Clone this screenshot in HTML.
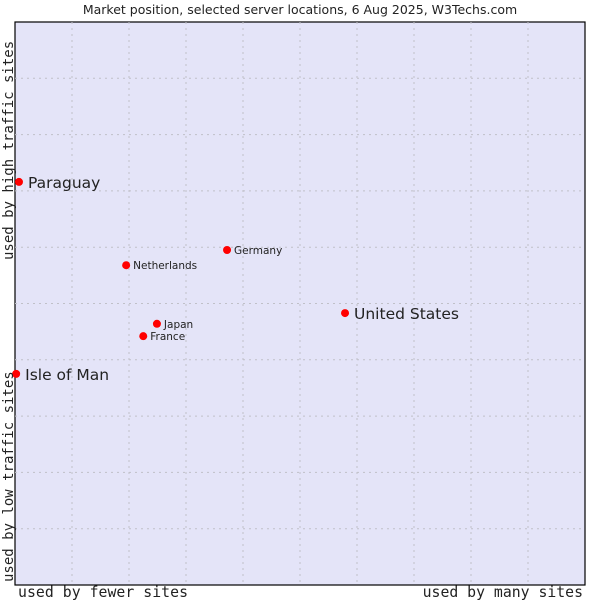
<!DOCTYPE html>
<html><head><meta charset="utf-8"><style>
body{margin:0;background:#fff;width:600px;height:600px;overflow:hidden}
svg text{fill:#222}
</style></head><body>
<svg id="chart" width="600" height="600">
<text x="300" y="14" text-anchor="middle" font-family="DejaVu Sans, sans-serif" font-size="12.5">Market position, selected server locations, 6 Aug 2025, W3Techs.com</text>
<rect x="15" y="22" width="570" height="563" fill="#e4e4f8" stroke="#000" stroke-width="1.2"/>
<g id="grid"></g>
<g id="points"></g>
<text x="18" y="597" font-family="DejaVu Sans Mono, monospace" font-size="14.8" textLength="170">used by fewer sites</text>
<text x="583" y="597" text-anchor="end" font-family="DejaVu Sans Mono, monospace" font-size="14.8">used by many sites</text>
<text transform="translate(13,582) rotate(-90)" font-family="DejaVu Sans Mono, monospace" font-size="14">used by low traffic sites</text>
<text transform="translate(13,260) rotate(-90)" font-family="DejaVu Sans Mono, monospace" font-size="14">used by high traffic sites</text>
</svg>
<script>
const names=["Paraguay","Isle of Man","Netherlands","Germany","Japan","France","United States"];
const xVals=[0.7,0.2,19.5,37.2,24.9,22.5,57.9];
const yVals=[71.6,37.5,56.8,59.5,46.4,44.2,48.3];
const bigLabel=[true,true,false,false,false,false,true];
const NS="http://www.w3.org/2000/svg";
const X0=15,X1=585,Y0=585,Y1=22;
const sx=v=>X0+(X1-X0)*v/100, sy=v=>Y0-(Y0-Y1)*v/100;
const grid=document.getElementById('grid');
for(let i=1;i<10;i++){
 let l=document.createElementNS(NS,'line');
 l.setAttribute('x1',sx(i*10));l.setAttribute('x2',sx(i*10));l.setAttribute('y1',Y1);l.setAttribute('y2',Y0);
 l.setAttribute('stroke','#c0c0c8');l.setAttribute('stroke-dasharray','2,4');
 
 
 grid.appendChild(l);
 let h=document.createElementNS(NS,'line');
 h.setAttribute('x1',X0);h.setAttribute('x2',X1);h.setAttribute('y1',sy(i*10));h.setAttribute('y2',sy(i*10));
 h.setAttribute('stroke','#c0c0c8');h.setAttribute('stroke-dasharray','2,4');
 
 
 grid.appendChild(h);
}
const pts=document.getElementById('points');
names.forEach((n,i)=>{
 const x=sx(xVals[i]),y=sy(yVals[i]);
 let c=document.createElementNS(NS,'circle');
 c.setAttribute('cx',x);c.setAttribute('cy',y);c.setAttribute('r',4);c.setAttribute('fill','#ff0000');
 
 
 pts.appendChild(c);
 let t=document.createElementNS(NS,'text');
 t.setAttribute('x',x+(bigLabel[i]?9:7));t.setAttribute('y',y+(bigLabel[i]?6:4));
 t.setAttribute('font-family','DejaVu Sans, sans-serif');t.setAttribute('font-size',bigLabel[i]?'15.5':'10.5');
 t.textContent=n;
 
 
 pts.appendChild(t);
});
</script>
</body></html>
